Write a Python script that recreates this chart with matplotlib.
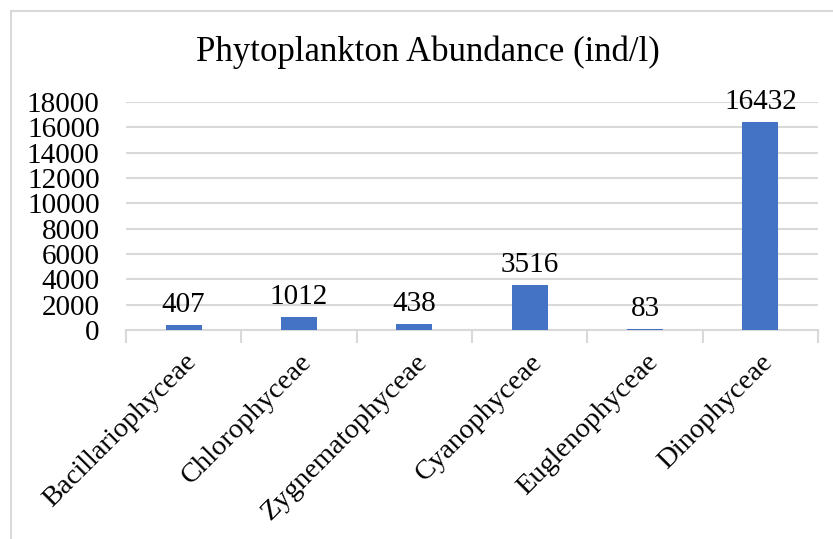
import matplotlib.pyplot as plt
from matplotlib.patches import Rectangle
import numpy as np

categories = ['Bacillariophyceae', 'Chlorophyceae', 'Zygnematophyceae',
              'Cyanophyceae', 'Euglenophyceae', 'Dinophyceae']
values = [407, 1012, 438, 3516, 83, 16432]
yticks = [0, 2000, 4000, 6000, 8000, 10000, 12000, 14000, 16000, 18000]

plt.rcParams['font.family'] = ['Liberation Serif', 'DejaVu Serif']

fig = plt.figure(figsize=(8.33, 5.39), dpi=100)
# outer chart frame
fig.patches.append(Rectangle((11/833, -0.1), 1.2, 1 - 11/539 + 0.1,
                             transform=fig.transFigure, fill=False,
                             edgecolor='#d9d9d9', linewidth=1.5))
ax = fig.add_axes([126/833, 1 - 330/539, (818 - 126)/833, (330 - 102)/539])

x = np.arange(len(categories))
bars = ax.bar(x, values, width=0.31, color='#4472C4', zorder=3)
for xi, v in zip(x, values):
    ax.text(xi, v + 550, str(v), ha='center', va='bottom', fontsize=21)

ax.set_xlim(-0.5, len(categories) - 0.5)
ax.set_ylim(0, 18000)
ax.set_yticks(yticks)
ax.set_yticklabels([str(t) for t in yticks], fontsize=21)
ax.tick_params(axis='y', length=0, pad=19)
ax.yaxis.grid(True, color='#d9d9d9', linewidth=1.5, zorder=0)

ax.set_xticks(x)
ax.set_xticklabels(categories, rotation=45, ha='right', rotation_mode='anchor',
                   fontsize=20.5)
ax.tick_params(axis='x', which='major', length=0, pad=14)
ax.set_xticks(np.arange(len(categories) + 1) - 0.5, minor=True)
ax.tick_params(axis='x', which='minor', length=9, color='#d9d9d9', width=1.5)

for s in ['top', 'right', 'left']:
    ax.spines[s].set_visible(False)
ax.spines['bottom'].set_color('#d9d9d9')
ax.spines['bottom'].set_linewidth(1.5)

fig.text(428/833, 1 - 52/539, 'Phytoplankton Abundance (ind/l)', ha='center',
         va='center', fontsize=25)

fig.savefig('out.png', dpi=100)
